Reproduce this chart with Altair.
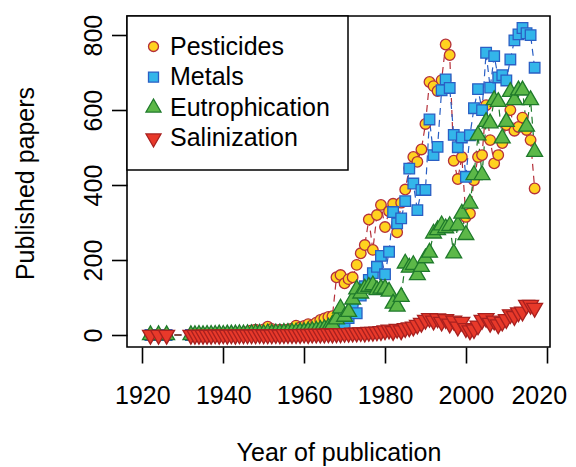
import altair as alt
import pandas as pd

years = [1922, 1924, 1926,
         1932, 1933, 1934, 1935, 1936, 1937, 1938, 1939, 1940, 1941,
         1942, 1943, 1944, 1945, 1946, 1947, 1948, 1949, 1950, 1951,
         1952, 1953, 1954, 1955, 1956, 1957, 1958, 1959, 1960, 1961,
         1962, 1963, 1964, 1965, 1966, 1967, 1968, 1969, 1970, 1971,
         1972, 1973, 1974, 1975, 1976, 1977, 1978, 1979, 1980, 1981,
         1982, 1983, 1984, 1985, 1986, 1987, 1988, 1989, 1990, 1991,
         1992, 1993, 1994, 1995, 1996, 1997, 1998, 1999, 2000, 2001,
         2002, 2003, 2004, 2005, 2006, 2007, 2008, 2009, 2010, 2011,
         2012, 2013, 2014, 2015, 2016, 2017]

pesticides = [0, 0, 0,
              0, 1, 1, 2, 1, 2, 2, 3, 2, 3,
              3, 4, 5, 6, 8, 12, 14, 11, 15, 22,
              16, 12, 14, 13, 15, 17, 25, 20, 24, 29,
              26, 33, 40, 44, 48, 50, 154, 160, 138, 149,
              154, 187, 218, 240, 308, 227, 320, 347, 288, 330,
              350, 274, 353, 388, 445, 475, 462, 495, 563, 675,
              664, 651, 680, 775, 747, 465, 416, 475, 315, 324,
              413, 475, 480, 613, 520, 458, 480, 512, 560, 600,
              545, 555, 580, 547, 520, 391]

metals = [0, 0, 0,
          0, 0, 0, 1, 0, 1, 1, 1, 2, 1,
          1, 2, 2, 2, 3, 3, 4, 3, 4, 5,
          4, 5, 5, 6, 5, 6, 7, 6, 8, 9,
          10, 11, 12, 14, 16, 18, 20, 28, 32, 45,
          72, 58, 105, 130, 147, 165, 182, 211, 162, 222,
          328, 298, 311, 357, 444, 404, 333, 387, 387, 575,
          480, 502, 653, 682, 659, 534, 501, 527, 422, 533,
          605, 656, 600, 753, 660, 744, 687, 693, 679, 735,
          786, 802, 819, 805, 800, 713]

eutrophication = [0, 0, 0,
                  0, 0, 1, 0, 1, 1, 1, 2, 1, 2,
                  2, 2, 3, 2, 3, 3, 4, 4, 3, 5,
                  4, 5, 5, 6, 6, 7, 7, 8, 8, 10,
                  11, 12, 14, 16, 20, 28, 42, 71, 49, 62,
                  95, 122, 111, 124, 129, 133, 120, 124, 124, 116,
                  84, 76, 102, 191, 180, 187, 160, 182, 205, 220,
                  271, 280, 293, 285, 291, 218, 293, 324, 267, 351,
                  427, 533, 427, 569, 565, 627, 622, 525, 569, 649,
                  627, 653, 653, 556, 627, 489]

salinization = [0, 0, 0,
                0, 0, 0, 0, 0, 0, 1, 0, 1, 0,
                1, 0, 1, 1, 1, 1, 1, 2, 1, 1,
                1, 2, 1, 2, 2, 2, 2, 2, 3, 2,
                3, 3, 3, 3, 4, 3, 4, 4, 5, 5,
                6, 6, 7, 6, 8, 8, 9, 10, 12, 14,
                10, 16, 12, 18, 20, 22, 27, 32, 40, 45,
                38, 44, 35, 42, 30, 38, 22, 35, 18, 12,
                15, 25, 40, 45, 32, 38, 28, 35, 42, 55,
                50, 60, 62, 80, 80, 72]

series_names = ["Pesticides", "Metals", "Eutrophication", "Salinization"]
fill_colors = ["#FFD21F", "#33B5EA", "#5CB848", "#E8392A"]
stroke_colors = ["#B5303A", "#2A5FC4", "#1F7A2B", "#A8201F"]
tri_up = "M0,-1.73L1.5,0.87L-1.5,0.87Z"
tri_down = "M0,1.73L1.5,-0.87L-1.5,-0.87Z"
shapes = ["circle", "square", tri_up, tri_down]

rows = []
for k, (name, vals) in enumerate(zip(series_names, [pesticides, metals, eutrophication, salinization])):
    for yr, v in zip(years, vals):
        rows.append({"series": name, "year": yr, "papers": v, "k": k})
df = pd.DataFrame(rows)

FONT = "Liberation Sans"

x_enc = alt.X("year:Q",
              scale=alt.Scale(domain=[1916.2, 2020.8], nice=False, zero=False),
              axis=alt.Axis(values=[1920, 1940, 1960, 1980, 2000, 2020], format="d",
                            labelOffset={"condition": {"test": "datum.value == 2020", "value": -8},
                                         "value": 0},
                            title="Year of publication", tickSize=16,
                            labelPadding=40, labelBaseline="alphabetic",
                            labelFlush=False, labelOverlap=False, labelBound=False,
                            titleY=113, titleBaseline="alphabetic"))
y_enc = alt.Y("papers:Q",
              scale=alt.Scale(domain=[-32, 851], nice=False, zero=False),
              axis=alt.Axis(values=[0, 200, 400, 600, 800], format="d",
                            title="Published papers", tickSize=15.5,
                            labelAngle=270, labelAlign="center",
                            labelBaseline="alphabetic", labelPadding=10,
                            labelFlush=False, labelOverlap=False,
                            titleAngle=270, titleAlign="center",
                            titleBaseline="alphabetic", titleX=-94, titleY=167))

base = alt.Chart(df)

line_layers = []
for name, col in zip(series_names, stroke_colors):
    line_layers.append(
        base.transform_filter(alt.datum.series == name)
        .mark_line(color=col, strokeDash=[7, 5], strokeWidth=1.2)
        .encode(x=x_enc, y=y_enc)
    )

legend = alt.Legend(title=None, orient="none", legendX=0, legendY=0,
                    padding=18, rowPadding=4.6, labelFontSize=25, labelFont=FONT,
                    labelOffset=4, symbolOffset=-4, labelLimit=400, symbolSize=100,
                    symbolStrokeWidth=1.3, symbolOpacity=1,
                    strokeColor="black", fillColor="white", labelColor="black")

points = base.mark_point(filled=True, opacity=1, strokeWidth=1.3, size=112).encode(
    x=x_enc, y=y_enc,
    fill=alt.Fill("series:N", scale=alt.Scale(domain=series_names, range=fill_colors), legend=legend),
    stroke=alt.Stroke("series:N", scale=alt.Scale(domain=series_names, range=stroke_colors), legend=legend),
    shape=alt.Shape("series:N", scale=alt.Scale(domain=series_names, range=shapes), legend=legend),
    order=alt.Order("k:Q"),
)

chart = alt.layer(*line_layers, points).properties(
    width=423, height=331,
    autosize=alt.AutoSizeParams(type="none"),
    padding={"left": 119, "top": 8, "right": 18, "bottom": 120},
).configure_view(
    stroke="black", strokeWidth=1.6
).configure_axis(
    grid=False, domain=False, tickColor="black", tickWidth=1.6,
    labelColor="black", titleColor="black", labelFont=FONT, titleFont=FONT,
    labelFontSize=25, titleFontSize=25, titleFontWeight="normal",
).configure_legend(
    strokeWidth=1.5
)

chart.save("out.html", embed_options={"renderer": "svg", "actions": False})
